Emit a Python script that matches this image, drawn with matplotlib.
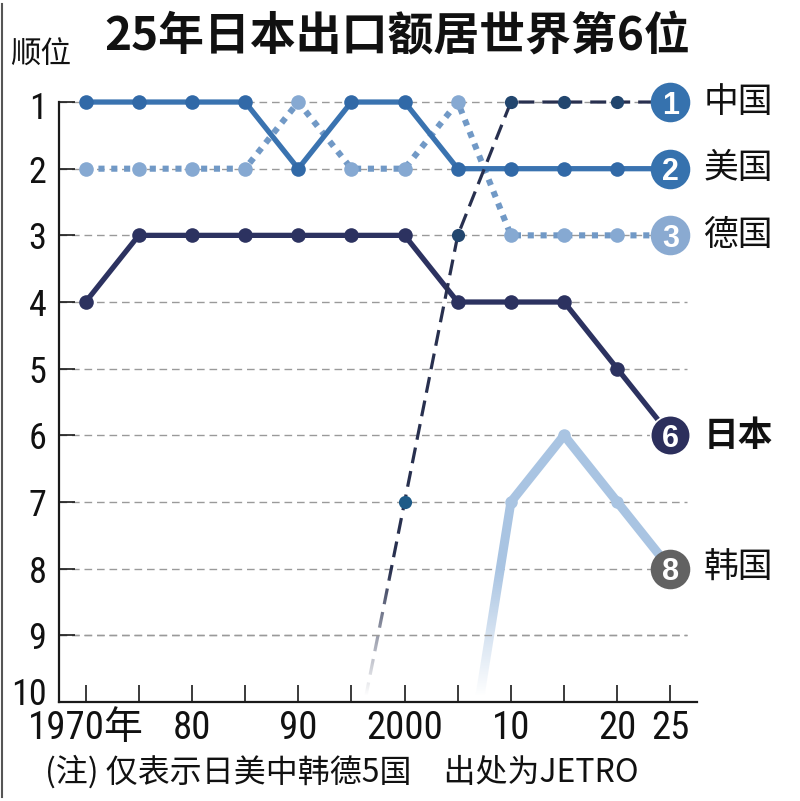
import numpy as np
import matplotlib
matplotlib.use('Agg')
import matplotlib.pyplot as plt
import matplotlib.font_manager as fm
from matplotlib.lines import Line2D
from matplotlib.transforms import ScaledTranslation

plt.rcParams['font.family'] = ['Noto Sans CJK SC', 'DejaVu Sans']

# ---------------- data ----------------
years = [1970, 1975, 1980, 1985, 1990, 1995, 2000, 2005, 2010, 2015, 2020, 2025]
nan = np.nan
china = [nan, nan, nan, nan, nan, 11, 7, 3, 1, 1, 1, 1]
usa = [1, 1, 1, 1, 2, 1, 1, 2, 2, 2, 2, 2]
germany = [2, 2, 2, 2, 1, 2, 2, 1, 3, 3, 3, 3]
japan = [4, 3, 3, 3, 3, 3, 3, 4, 4, 4, 5, 6]
korea = [nan, nan, nan, nan, nan, nan, nan, 12, 7, 6, 7, 8]
names = ['中国', '美国', '德国', '日本', '韩国']
xtick_labels = ['1970年', '', '80', '', '90', '', '2000', '', '10', '', '20', '25']
rank_ticks = [1, 2, 3, 4, 5, 6, 7, 8, 9, 10]
title = '25年日本出口额居世界第6位'
ylabel = '顺位'
note = '(注) 仅表示日美中韩德5国　出处为JETRO'


def pick_condensed():
    ents = fm.fontManager.ttflist
    avail = {e.name for e in ents}
    for p in ['Liberation Sans Narrow', 'Arial Narrow', 'Roboto Condensed',
              'Open Sans Condensed', 'Noto Sans Condensed', 'DejaVu Sans Condensed']:
        if p in avail:
            return p, 'normal'
    for pref in ['Liberation Sans', 'Roboto', 'Noto Sans', 'Open Sans', 'DejaVu Sans']:
        for e in ents:
            if e.name == pref and e.stretch in ('condensed', 'semi-condensed',
                                                 'extra-condensed', 'ultra-condensed'):
                return e.name, e.stretch
    for e in ents:
        if e.stretch in ('condensed', 'semi-condensed') and e.style == 'normal' \
                and e.weight in (400, 'normal', 'regular') and 'Mono' not in e.name \
                and 'Serif' not in e.name:
            return e.name, e.stretch
    return 'Liberation Sans', 'normal'


cond_name, cond_stretch = pick_condensed()
NUM = [cond_name, 'Noto Sans CJK SC']

fig = plt.figure(figsize=(8, 8.01), dpi=100)
ax = fig.add_axes([59/800, 99/801, 638/800, 633.3/801])
ax.set_xlim(1967.5, 2027.5)
ax.set_ylim(10, 0.5)

# grid
grid_kw = dict(color='#9a9a9a', lw=1.0, ls=(0, (5.5, 3.5)))
for r in rank_ticks[:-1]:
    ax.axhline(r, xmin=0, xmax=(2026.6-1967.5)/60, zorder=1, **grid_kw)

series = [
    # values, line color, marker color, lw, ls, ms, zorder, circle color
    (korea, '#a9c4e2', '#a9c4e2', 6.5, '-', 9, 2.0, '#626262'),
    (germany, '#7199c6', '#86a9d2', 4.4, (0, (1.0, 1.1)), 10.5, 2.1, '#8aaad1'),
    (usa, '#3a73b0', '#3169a7', 3.8, '-', 10.5, 2.2, '#3672ae'),
    (japan, '#2c3260', '#2c3260', 3.8, '-', 10.5, 2.3, '#2c2f5c'),
    (china, '#28304f', '#22466e', 2.3, (0, (5, 2.5)), 9.5, 2.4, '#3672ae'),
]
order_names = ['韩国', '德国', '美国', '日本', '中国']

for (vals, lc, mc, lw, ls, ms, z, cc), nm in zip(series, order_names):
    v = np.array(vals, dtype=float)
    y = np.array(years, dtype=float)
    ok = ~np.isnan(v)
    ax.plot(y[ok], v[ok], color=lc, lw=lw, ls=ls, zorder=z,
            solid_capstyle='round', dash_capstyle='butt', solid_joinstyle='round')
    mk = ok & (v <= 10)
    mk[-1] = False
    mcols = [mc] * len(v)
    if nm == '中国':
        mcols[years.index(2000)] = '#1e5a87'
    for xi, vi, ci in zip(y[mk], v[mk], np.array(mcols)[mk]):
        ax.plot(xi, vi, 'o', ms=ms, color=ci, mec='none', zorder=z + 1, clip_on=False)
    # end circle
    end = v[-1]
    ax.plot(years[-1], end, 'o', ms=28.5, color=cc,
            mec='white' if nm == '日本' else 'none', mew=1.2, zorder=6, clip_on=False)
    ax.text(years[-1], end, str(int(end)), ha='center', va='center_baseline',
            color='white', fontsize=22, fontweight='bold',
            family=['Liberation Sans', 'DejaVu Sans'], zorder=7)
    ax.text(2028.1, end, nm, ha='left', va='center', fontsize=25,
            fontweight='bold' if nm == '日本' else 'normal', color='#111111', zorder=7)

# fade-out overlay for lines entering from below the chart
ramp = np.clip((np.linspace(7.8, 10, 200) - 8.0) / 1.9, 0, 1)
grad = np.ones((200, 2, 4))
grad[:, :, 3] = ramp[:, None]
ax.imshow(grad, extent=[1995.3, 2009.8, 10, 7.8], origin='upper', aspect='auto',
          interpolation='bilinear', zorder=2.9)
ax.axhline(9, xmin=0, xmax=(2026.6-1967.5)/60, zorder=2.95, **grid_kw)
ax.set_xlim(1967.5, 2027.5)
ax.set_ylim(10, 0.5)

# axes styling
for s in ['top', 'right']:
    ax.spines[s].set_visible(False)
for s in ['left', 'bottom']:
    ax.spines[s].set_linewidth(1.6)
    ax.spines[s].set_color('#1a1a1a')
    ax.spines[s].set_zorder(4)
ax.spines['left'].set_bounds(1, 10)
ax.xaxis.set_zorder(4)
ax.yaxis.set_zorder(4)

ax.set_xticks(years)
ax.set_xticklabels(xtick_labels, family=NUM, stretch=cond_stretch, fontsize=28,
                   color='#111111')
ax.set_yticks(rank_ticks)
ax.set_yticklabels([str(r) for r in rank_ticks], family=NUM, stretch=cond_stretch,
                   fontsize=26, color='#111111')
ax.tick_params(axis='x', direction='in', length=12, width=1.2, color='#1a1a1a', pad=6)
ax.tick_params(axis='y', direction='in', length=11.5, width=1.2, color='#1a1a1a', pad=9)

ylabs = ax.get_yticklabels()
ylabs[0].set_transform(ylabs[0].get_transform() +
                       ScaledTranslation(0, -3/100, fig.dpi_scale_trans))
ylabs[-1].set_transform(ylabs[-1].get_transform() +
                        ScaledTranslation(0, 11/100, fig.dpi_scale_trans))

fig.text(0.497, 0.953, title, ha='center', va='center', fontsize=33, fontweight='heavy',
         color='#111111')
fig.text(10/800, 0.931, ylabel, ha='left', va='center', fontsize=22, color='#111111')
fig.text(45/800, 0.036, note, ha='left', va='center', fontsize=23, color='#111111')

fig.add_artist(Line2D([0.002, 0.002], [0.005, 0.995], color='#555555', lw=1.5))

fig.savefig('out.png', dpi=100)
